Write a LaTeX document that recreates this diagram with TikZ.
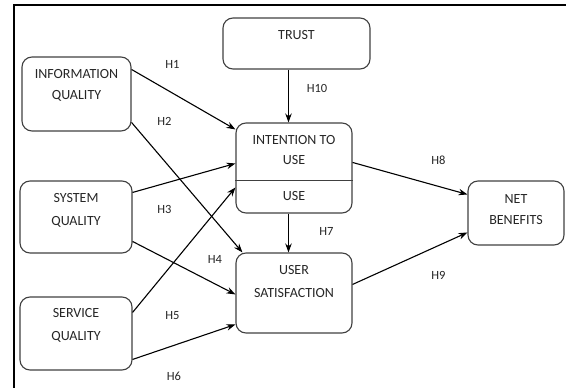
\documentclass[tikz,border=0pt]{standalone}
\usepackage{fontspec}
\setmainfont{Carlito}
\usetikzlibrary{arrows.meta}

\begin{document}
\begin{tikzpicture}[x=1pt,y=-1pt,
  box/.style={draw=black!75, line width=1.1pt, rounded corners=10pt, inner sep=0pt},
  txt/.style={inner sep=0pt, align=center, anchor=base, text=black!85, font=\fontsize{14}{#1}\selectfont},
  txt/.default=22,
  hyp/.style={inner sep=0pt, text=black!85, font=\fontsize{12.5}{14}\selectfont},
  arr/.style={-{Stealth[length=9pt,width=6.5pt]}, line width=1.1pt}]
  \useasboundingbox (0,0) rectangle (566,388);
  % frame
  \draw[line width=2pt] (14,388) -- (14,5) -- (566,5);

  % boxes
  \node[box, minimum width=109pt, minimum height=74pt] (iq) at (76.5,94) {};
  \node[box, minimum width=112pt, minimum height=72pt] (sq) at (76,217) {};
  \node[box, minimum width=112pt, minimum height=73pt] (sv) at (76,333.5) {};
  \node[box, minimum width=147pt, minimum height=51pt] (trust) at (296.5,43.5) {};
  \node[box, minimum width=116pt, minimum height=90pt] (itu) at (294,168) {};
  \node[box, minimum width=116pt, minimum height=80pt] (us) at (294,293) {};
  \node[box, minimum width=96pt, minimum height=64pt] (nb) at (516,213) {};
  \draw[draw=black!75, line width=1.1pt] ([yshift=-58pt]itu.north west) -- ([yshift=-58pt]itu.north east);

  % box texts (base = last line)
  \node[txt=21] (iqtext) at ([yshift=-43.5pt]iq.north) {INFORMATION\\QUALITY};
  \node[txt=23] (sqtext) at ([yshift=-45.5pt]sq.north) {SYSTEM\\QUALITY};
  \node[txt=23] (svtext) at ([yshift=-44.5pt]sv.north) {SERVICE\\QUALITY};
  \node[txt] (trusttext) at ([yshift=-22.5pt]trust.north) {TRUST};
  \node[txt=20] (itutext) at ([yshift=-42.5pt]itu.north) {INTENTION TO\\USE};
  \node[txt, anchor=center] (usetext) at ([yshift=-74pt]itu.north) {USE};
  \node[txt=23] (ustext) at ([yshift=-45.5pt]us.north) {USER\\SATISFACTION};
  \node[txt=21] (nbtext) at ([yshift=-44.5pt]nb.north) {NET\\BENEFITS};

  % hypotheses
  \draw[arr] ([yshift=-13pt]iq.north east) -- ([yshift=-7pt]itu.north west);
  \draw[arr] ([yshift=-66pt]iq.north east) -- ([xshift=7pt]us.north west);
  \draw[arr] ([yshift=-12pt]sq.north east) -- ([yshift=-41pt]itu.north west);
  \draw[arr] ([yshift=-61pt]sq.north east) -- ([yshift=-42pt]us.north west);
  \draw[arr] ([yshift=-16pt]sv.north east) -- ([yshift=-65pt]itu.north west);
  \draw[arr] ([yshift=-63pt]sv.north east) -- ([yshift=-72pt]us.north west);
  \draw[arr] ([xshift=-5.5pt]itu.south) -- ([xshift=-5.5pt]us.north);
  \draw[arr] ([yshift=-40pt]itu.north east) -- ([yshift=-14pt]nb.north west);
  \draw[arr] ([yshift=-32pt]us.north east) -- ([yshift=-52pt]nb.north west);
  \draw[arr] ([xshift=-8pt]trust.south) -- ([xshift=-5.5pt]itu.north);

  \node[hyp] (h1) at (172.5,64) {H1};
  \node[hyp] (h2) at (164.5,121) {H2};
  \node[hyp] (h3) at (164.5,209) {H3};
  \node[hyp] (h4) at (215,259.5) {H4};
  \node[hyp] (h5) at (172.5,315.5) {H5};
  \node[hyp] (h6) at (174,376) {H6};
  \node[hyp] (h7) at (326.5,231.5) {H7};
  \node[hyp] (h8) at (438.5,160) {H8};
  \node[hyp] (h9) at (438.5,275) {H9};
  \node[hyp] (h10) at (317,88) {H10};
\end{tikzpicture}
\end{document}
